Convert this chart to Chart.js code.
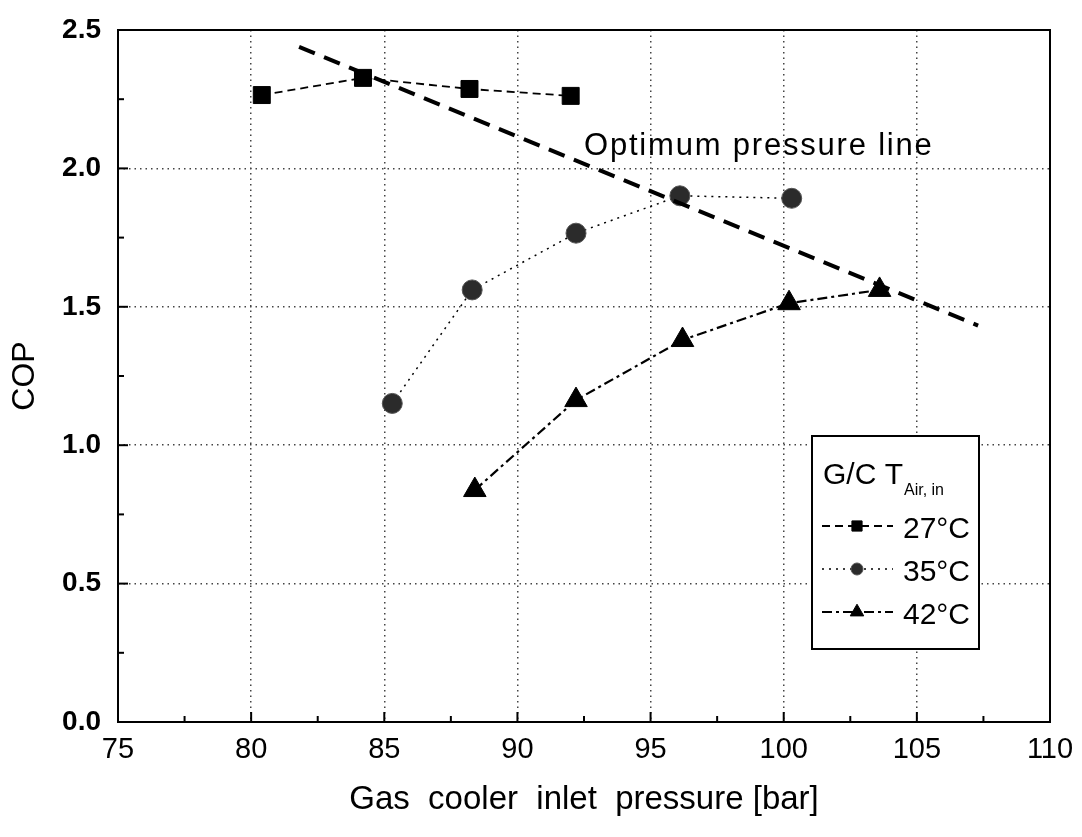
<!DOCTYPE html>
<html>
<head>
<meta charset="utf-8">
<script src="https://cdn.jsdelivr.net/npm/chart.js@4"></script>
<style>
  html, body { margin: 0; padding: 0; background: #fff; }
  #wrap { width: 1082px; height: 837px; position: relative; }
</style>
</head>
<body>
<div id="wrap"><canvas id="copChart" width="1082" height="837"></canvas></div>
<script>
// 数据：气冷器进口压力 vs COP
const seriesNames = ['27°C', '35°C', '42°C'];
const press27 = [80.4, 84.2, 88.2, 92.0];
const cop27   = [2.265, 2.327, 2.287, 2.262];
const press35 = [85.3, 88.3, 92.2, 96.1, 100.3];
const cop35   = [1.151, 1.561, 1.766, 1.901, 1.892];
const press42 = [88.4, 92.2, 96.2, 100.2, 103.6];
const cop42   = [0.838, 1.163, 1.380, 1.513, 1.561];
const optPress = [81.8, 107.3];
const optCop   = [2.439, 1.432];
const xTicks = [75, 80, 85, 90, 95, 100, 105, 110];
const yTicks = [0.0, 0.5, 1.0, 1.5, 2.0, 2.5];

const SANS = '"Liberation Sans", Arial, sans-serif';

function pts(xs, ys) {
  return xs.map((x, i) => ({ x: x, y: ys[i] }));
}

const seriesStyle = [
  { dash: [8, 5], width: 1.8, point: 'rect', radius: 12, fill: '#000', border: '#000' },
  { dash: [2, 5], width: 1.5, point: 'circle', radius: 10, fill: '#2b2b2b', border: '#555' },
  { dash: [10, 4, 3, 4], width: 2.2, point: 'triangle', radius: 13, fill: '#000', border: '#000' }
];

// 画框、内向刻度、标注和图例
const decorPlugin = {
  id: 'decor',
  afterDraw(chart) {
    const ctx = chart.ctx;
    const xs = chart.scales.x, ys = chart.scales.y;
    const a = chart.chartArea;
    ctx.save();
    ctx.strokeStyle = '#000';
    ctx.lineWidth = 2;
    ctx.setLineDash([]);
    ctx.strokeRect(a.left, a.top, a.right - a.left, a.bottom - a.top);

    // 内向刻度
    for (let v = 75; v <= 110; v += 2.5) {
      const px = xs.getPixelForValue(v);
      const major = Math.abs(v % 5) < 1e-6;
      ctx.beginPath();
      ctx.moveTo(px, a.bottom);
      ctx.lineTo(px, a.bottom - (major ? 10 : 6));
      ctx.stroke();
    }
    for (let v = 0; v <= 2.5001; v += 0.25) {
      const py = ys.getPixelForValue(v);
      const major = Math.abs((v * 2) % 1) < 1e-6;
      ctx.beginPath();
      ctx.moveTo(a.left, py);
      ctx.lineTo(a.left + (major ? 10 : 6), py);
      ctx.stroke();
    }

    // 最优压力线标注
    ctx.fillStyle = '#000';
    ctx.font = '31px ' + SANS;
    ctx.letterSpacing = '1.8px';
    ctx.textBaseline = 'alphabetic';
    ctx.textAlign = 'left';
    ctx.fillText('Optimum pressure line', xs.getPixelForValue(92.5), ys.getPixelForValue(2.05));
    ctx.letterSpacing = '0px';

    // 图例
    const bx = 812, by = 436, bw = 167, bh = 213;
    ctx.fillStyle = '#fff';
    ctx.fillRect(bx, by, bw, bh);
    ctx.strokeStyle = '#000';
    ctx.lineWidth = 2;
    ctx.strokeRect(bx, by, bw, bh);

    ctx.fillStyle = '#000';
    ctx.font = '30px ' + SANS;
    ctx.fillText('G/C T', 823, 484);
    const tw = ctx.measureText('G/C T').width;
    ctx.font = '16px ' + SANS;
    ctx.fillText('Air, in', 823 + tw + 1, 495);

    const rows = [526, 569, 612];
    rows.forEach((ry, i) => {
      const st = seriesStyle[i];
      ctx.strokeStyle = '#000';
      ctx.lineWidth = st.width;
      ctx.setLineDash(st.dash);
      ctx.beginPath();
      ctx.moveTo(822, ry);
      ctx.lineTo(893, ry);
      ctx.stroke();
      ctx.setLineDash([]);
      ctx.fillStyle = st.fill;
      ctx.strokeStyle = st.border;
      ctx.lineWidth = 1;
      Chart.helpers.drawPoint(ctx, { pointStyle: st.point, radius: st.radius * 0.6, borderWidth: 1 }, 857, ry);
      ctx.fillStyle = '#000';
      ctx.font = '30px ' + SANS;
      ctx.fillText(seriesNames[i], 903, ry + 12);
    });
    ctx.restore();
  }
};

const datasets = [
  {
    label: 'Optimum pressure line',
    data: pts(optPress, optCop),
    showLine: true,
    borderColor: '#000',
    borderWidth: 4,
    borderDash: [17, 10],
    pointRadius: 0,
    order: 0
  }
];
[[press27, cop27], [press35, cop35], [press42, cop42]].forEach((d, i) => {
  const st = seriesStyle[i];
  datasets.push({
    label: seriesNames[i],
    data: pts(d[0], d[1]),
    showLine: true,
    borderColor: '#000',
    borderWidth: st.width,
    borderDash: st.dash,
    pointStyle: st.point,
    pointRadius: st.radius,
    pointBackgroundColor: st.fill,
    pointBorderColor: st.border,
    pointBorderWidth: 1,
    order: 1
  });
});

new Chart(document.getElementById('copChart').getContext('2d'), {
  type: 'scatter',
  data: { datasets: datasets },
  options: {
    responsive: false,
    animation: false,
    layout: { padding: { top: 30, right: 32, left: 0, bottom: 0 } },
    plugins: {
      legend: { display: false },
      tooltip: { enabled: false }
    },
    scales: {
      x: {
        type: 'linear',
        min: 75, max: 110,
        afterBuildTicks: (s) => { s.ticks = xTicks.map(v => ({ value: v })); },
        afterFit: (s) => { s.height = 115; s.paddingLeft = 0; s.paddingRight = 0; },
        grid: { color: '#444', lineWidth: 1.5, drawTicks: false },
        border: { display: false, dash: [1.5, 4] },
        ticks: {
          color: '#000', padding: 11,
          font: { family: SANS, size: 29 }
        },
        title: {
          display: true,
          text: 'Gas  cooler  inlet  pressure [bar]',
          color: '#000',
          font: { family: SANS, size: 33 },
          padding: { top: 0, bottom: 17 }
        }
      },
      y: {
        type: 'linear',
        min: 0, max: 2.5,
        afterBuildTicks: (s) => { s.ticks = yTicks.map(v => ({ value: v })); },
        afterFit: (s) => { s.width = 118; s.paddingTop = 0; s.paddingBottom = 0; },
        grid: { color: '#444', lineWidth: 1.5, drawTicks: false },
        border: { display: false, dash: [1.5, 4] },
        ticks: {
          color: '#000', padding: 17,
          font: { family: SANS, size: 28, weight: 'bold' },
          callback: (v) => Number(v).toFixed(1)
        },
        title: {
          display: true,
          text: 'COP',
          color: '#000',
          font: { family: SANS, size: 32 },
          padding: { top: 6, bottom: 4 }
        }
      }
    }
  },
  plugins: [decorPlugin]
});
</script>
</body>
</html>
